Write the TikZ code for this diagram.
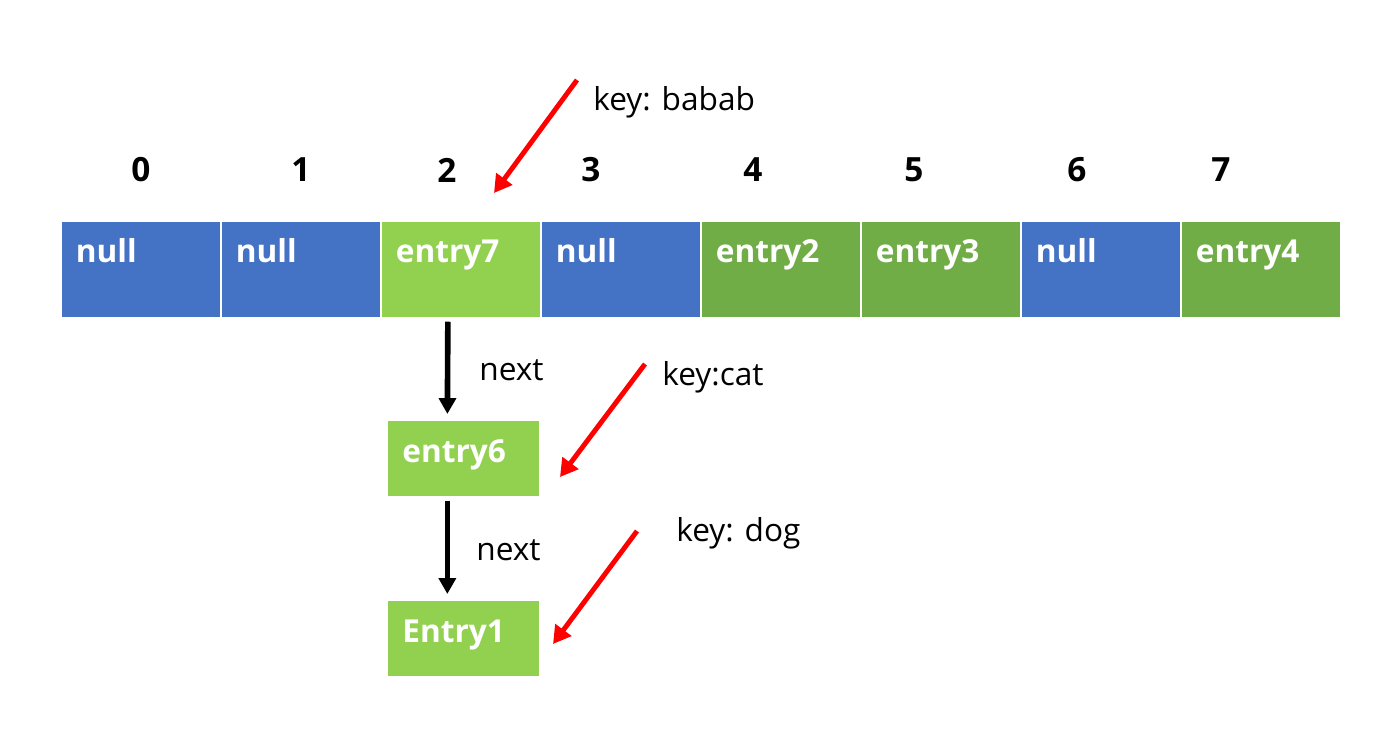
\documentclass[tikz,border=0pt]{standalone}
\usepackage{fontspec}
\setmainfont{Open Sans}
\usetikzlibrary{arrows.meta}
\definecolor{nullblau}{HTML}{4472C4}
\definecolor{hellgruen}{HTML}{92D050}
\definecolor{dunkelgruen}{HTML}{70AD47}
\definecolor{pfeilrot}{HTML}{FF0000}
\tikzset{
 zelle/.style={draw=white,line width=1pt,fill=#1,text=white,anchor=north west,
  font=\fontsize{18}{20}\selectfont\bfseries,align=left,text width=2.6cm,
  inner xsep=0.3cm,inner ysep=0pt,text height=0.84cm,text depth=1.1cm},
 kette/.style={fill=hellgruen,text=white,anchor=north west,
  font=\fontsize{18}{20}\selectfont\bfseries,align=left,text width=2.46cm,
  inner xsep=0.28cm,inner ysep=0pt,text height=0.82cm,text depth=0.68cm},
 index/.style={font=\fontsize{19}{21}\selectfont\bfseries},
 schrift/.style={font=\fontsize{18}{20}\selectfont,anchor=west,inner sep=0pt},
 nextpfeil/.style={line width=3.2pt,-{Triangle[length=9pt,width=9.5pt]}},
 rotpfeil/.style={draw=pfeilrot,line width=2.8pt,-{Triangle[length=10pt,width=11pt]}}
}
\begin{document}
\begin{tikzpicture}[x=0.02cm,y=-0.02cm]
\useasboundingbox (0,0) rectangle (1375,737);
%Tabelle
\foreach \txt/\col [count=\i from 0] in {null/nullblau,null/nullblau,entry7/hellgruen,null/nullblau,entry2/dunkelgruen,entry3/dunkelgruen,null/nullblau,entry4/dunkelgruen}
 \node[zelle=\col] (c\i) at (60+160*\i,220) {\txt};
%Indizes
\foreach \x [count=\i from 0] in {141,301,447,591,753,914,1077,1221}
 \node[index] (i\i) at (\x,170) {\i};
%Kette
\node[kette] (e6) at (388,421) {entry6};
\node[kette] (e1) at (388,601) {Entry1};
\draw[nextpfeil,shorten <=0.06cm,shorten >=0.14cm] ([xshift=-0.26cm]c2.south) -- ([xshift=-0.33cm]e6.north);
\draw[nextpfeil,shorten <=0.08cm,shorten >=0.14cm] ([xshift=-0.33cm]e6.south) -- ([xshift=-0.33cm]e1.north);
\node[schrift] (n1) at (479,370) {next};
\node[schrift] (n2) at (476,550) {next};
%Schluessel
\node[schrift] (k1) at (593,102) {key: babab};
\node[schrift] (k2) at (662,377) {key:cat};
\node[schrift] (k3) at (676,533) {key: dog};
\coordinate (r1) at (577,80);
\coordinate (z1) at (494,193);
\coordinate (r2) at (645,364);
\coordinate (z2) at (560,477);
\coordinate (r3) at (637,531);
\coordinate (z3) at (553,644);
\draw[rotpfeil] (r1) -- (z1);
\draw[rotpfeil] (r2) -- (z2);
\draw[rotpfeil] (r3) -- (z3);
\end{tikzpicture}
\end{document}
